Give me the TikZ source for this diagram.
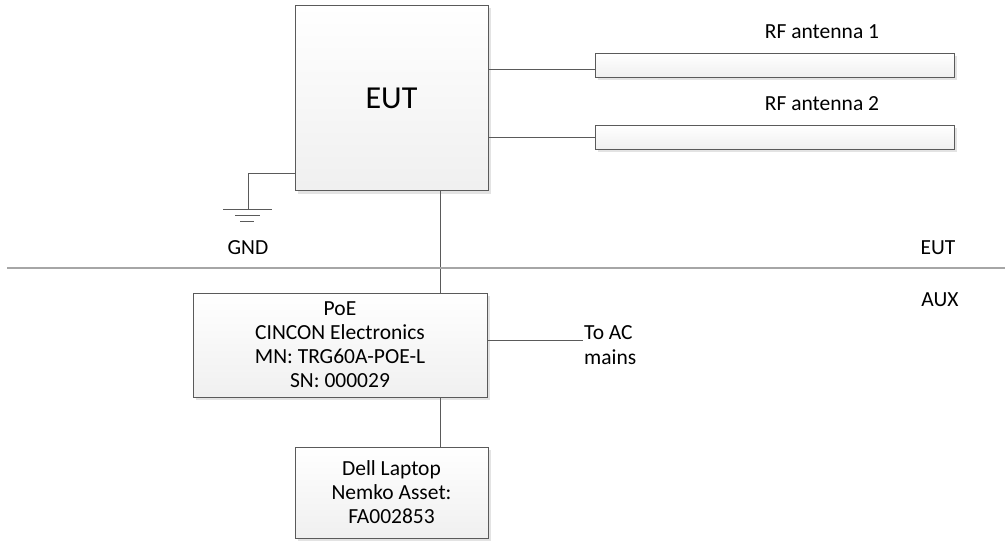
\documentclass[tikz,border=0pt]{standalone}
\usepackage{fontspec}
\setmainfont{Carlito}
\usetikzlibrary{shadows}
\definecolor{edge}{HTML}{5A5A5A}
\begin{document}
\begin{tikzpicture}[x=1pt,y=-1pt,
  blk/.style={draw=edge, line width=0.8pt, top color=white, bottom color=gray!12,
    drop shadow={shadow xshift=3pt, shadow yshift=-3pt, fill=gray!22, opacity=1},
    inner sep=0pt, align=center, font=\fontsize{21.5}{24}\selectfont},
  wire/.style={draw=edge, line width=0.8pt},
  lbl/.style={inner sep=0pt, font=\fontsize{21.5}{24.5}\selectfont, align=left}]
\useasboundingbox (0,0) rectangle (1005,543);
\node[blk, minimum width=193pt, minimum height=185pt, font=\fontsize{32}{36}\selectfont] (eut) at (391.5,98) {EUT};
\node[blk, minimum width=359pt, minimum height=24pt] (ant1) at (774.5,65) {};
\node[blk, minimum width=359pt, minimum height=24pt] (ant2) at (774.5,137) {};
\node[lbl] (a1l) at (822,32) {RF antenna 1};
\node[lbl] (a2l) at (822,104) {RF antenna 2};
\node[blk, minimum width=294pt, minimum height=104pt] (poe) at (340,345)
  {PoE\\CINCON Electronics\\MN: TRG60A-POE-L\\SN: 000029};
\node[blk, minimum width=193pt, minimum height=91pt] (lap) at (391.5,492.5)
  {Dell Laptop\\Nemko Asset:\\FA002853};
\node[lbl, anchor=west] (ac) at (584,345) {To AC\\mains};
\node[lbl] (gndl) at (248,248) {GND};
\node[lbl] (eutl) at (938,248) {EUT};
\node[lbl] (auxl) at (940,300) {AUX};
% connectors
\draw[wire] (eut.east |- 0,69) -- (ant1.west |- 0,69);
\draw[wire] (eut.east |- ant2.west) -- (ant2.west);
\coordinate (t1) at (440,191);
\coordinate (t2) at (440,293);
\coordinate (t3) at (440,397);
\coordinate (t4) at (440,447);
\draw[wire] (t1) -- (t2);
\draw[wire] (t3) -- (t4);
\coordinate (acend) at (583,340);
\draw[wire] (poe.east |- acend) -- (acend);
% ground
\coordinate (g1) at (248,173);
\coordinate (g2) at (248,209);
\draw[wire] (eut.west |- g1) -- (g1) -- (g2);
\draw[wire] (223,209) -- (272,209);
\draw[wire] (235,215) -- (260,215);
\draw[wire] (240,221) -- (254,221);
% separator
\draw[gray!70, line width=1.2pt] (7,268) -- (1005,268);
\end{tikzpicture}
\end{document}
